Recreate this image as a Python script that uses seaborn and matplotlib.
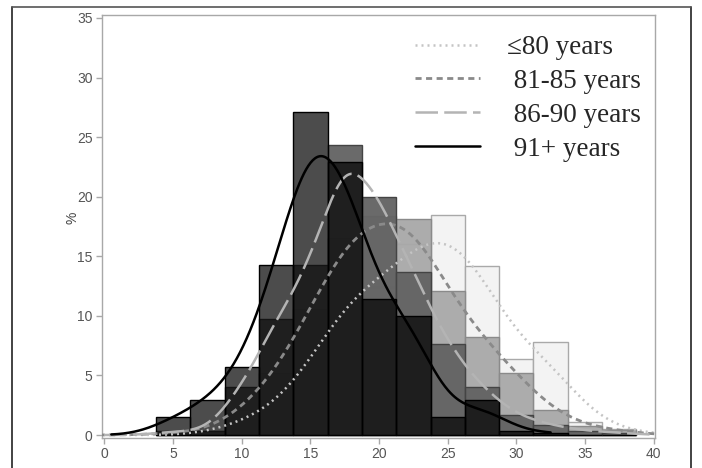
import numpy as np
import pandas as pd
import seaborn as sns
import matplotlib.pyplot as plt
from matplotlib.lines import Line2D

# ---- data (percent of each age group per bin) ----
bin_centers = [5, 7.5, 10, 12.5, 15, 17.5, 20, 22.5, 25, 27.5, 30, 32.5, 35, 37.5]
pct_le80 = [0, 0, 1.2, 2.1, 5.5, 12.5, 12.45, 16.0, 18.5, 14.2, 6.4, 7.8, 1.1, 0.5]
pct_81_85 = [0.2, 0.3, 2.1, 5.2, 10.6, 16.5, 18.4, 18.1, 12.1, 8.25, 5.2, 2.1, 0.75, 0.4]
pct_86_90 = [0.3, 0.3, 4.05, 9.7, 14.3, 24.3, 20.0, 13.7, 7.6, 4.0, 1.65, 0.85, 0.35, 0.2]
pct_91p = [1.5, 2.9, 5.7, 14.3, 27.1, 22.9, 11.4, 10.0, 1.5, 2.9, 0.3, 0.2, 0, 0]
group_labels = ["\u226480 years", " 81-85 years", " 86-90 years", " 91+ years"]
x_ticks = [0, 5, 10, 15, 20, 25, 30, 35, 40]
y_ticks = [0, 5, 10, 15, 20, 25, 30, 35]

bin_edges = [3.75 + 2.5 * i for i in range(15)]

sns.set_theme(style="white")
plt.rcParams['font.family'] = ['Liberation Sans Narrow', 'Liberation Sans', 'DejaVu Sans']

fig = plt.figure(figsize=(7.02, 4.68), dpi=100)
ax = fig.add_axes([101.7 / 702, 1 - 438 / 468, (655 - 101.7) / 702, (438 - 15) / 468])

styles = [
    dict(face="#f3f3f3", alpha=1.0, edge="#a9a9a9", lc="#c4c4c4", ls=(0, (0.8, 1.6)), lw=1.8, bw=2.25, cut=2.2, clip=(None, None)),
    dict(face="#a8a8a8", alpha=0.95, edge="#8a8a8a", lc="#8a8a8a", ls=(0, (2.2, 1.6)), lw=2.0, bw=1.8, cut=2.2, clip=(None, None)),
    dict(face="#626262", alpha=0.95, edge="#444444", lc="#b4b4b4", ls=(0, (9, 2.5)), lw=1.8, bw=1.45, cut=1.6, clip=(None, None)),
    dict(face="#000000", alpha=0.7, edge="#000000", lc="#000000", ls="-", lw=1.8, bw=1.7, cut=2.4, clip=(0.5, 32.5)),
]

series = [pct_le80, pct_81_85, pct_86_90, pct_91p]
kde_lines = []
for label, vals, st in zip(group_labels, series, styles):
    df = pd.DataFrame({"x": bin_centers, "w": vals})
    df = df[df["w"] > 0]
    m = np.average(df["x"], weights=df["w"])
    sd = np.sqrt(np.average((df["x"] - m) ** 2, weights=df["w"]))
    n_before = len(ax.lines)
    sns.histplot(
        data=df, x="x", weights="w", bins=bin_edges, stat="count",
        kde=True,
        kde_kws=dict(bw_method=st["bw"] / sd, cut=st["cut"], clip=st["clip"], gridsize=400),
        line_kws=dict(linestyle=st["ls"], linewidth=st["lw"], zorder=10, label=label),
        color=st["face"], alpha=st["alpha"], edgecolor=st["edge"], linewidth=1.0,
        ax=ax,
    )
    line = ax.lines[n_before]
    line.set_color(st["lc"])
    line.set_alpha(1)
    kde_lines.append(line)

ax.set_xlim(-0.2, 40.1)
ax.set_ylim(-0.25, 35.25)
ax.set_xticks(x_ticks)
ax.set_yticks(y_ticks)
ax.set_xlabel("")
ax.set_ylabel("%", fontsize=10, color="#444444")
ax.yaxis.set_label_coords(-0.04, 0.52)

for sp in ax.spines.values():
    sp.set_color("#a8a8a8")
    sp.set_linewidth(1.0)
ax.tick_params(axis="both", direction="out", length=4.5, width=1, color="#a8a8a8",
               labelcolor="#555555", labelsize=10, pad=2)
ax.tick_params(axis="x", bottom=True)
ax.tick_params(axis="y", left=True)

leg = ax.legend(handles=kde_lines, labels=group_labels, loc="upper left",
                bbox_to_anchor=(415 / 702, 1 - 35 / 468), bbox_transform=fig.transFigure,
                frameon=False, handlelength=2.4, handletextpad=1.0, labelspacing=0.33,
                borderpad=0, borderaxespad=0,
                prop=dict(family=["Liberation Serif", "DejaVu Serif"], size=19.5))

# outer frame of the figure
fig.add_artist(Line2D([12 / 702, 12 / 702], [0, 1 - 6.5 / 468], transform=fig.transFigure, color="#222222", lw=1.2))
fig.add_artist(Line2D([691 / 702, 691 / 702], [0, 1 - 6.5 / 468], transform=fig.transFigure, color="#222222", lw=1.2))
fig.add_artist(Line2D([12 / 702, 691 / 702], [1 - 6.5 / 468, 1 - 6.5 / 468], transform=fig.transFigure, color="#555555", lw=1.2))

fig.savefig("out.png", dpi=100)
